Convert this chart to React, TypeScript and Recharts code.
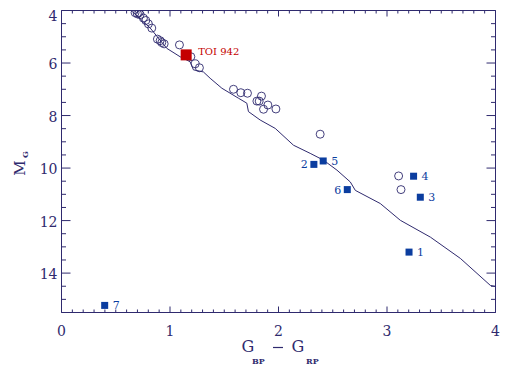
import React from 'react';
import { ScatterChart, Scatter, XAxis, YAxis, Customized } from 'recharts';

const W = 510;
const H = 368;
const INK = '#2f2a6e';
const BLUE = '#0b3d9f';
const RED = '#c40000';
const SERIF = '"DejaVu Serif", "Liberation Serif", serif';

// field stars (open circles)
const fieldX = [0.678, 0.699, 0.724, 0.715, 0.755, 0.777, 0.801, 0.832, 0.884, 0.909, 0.924, 0.946, 1.087, 1.192, 1.232, 1.271, 1.585, 1.653, 1.714, 1.843, 1.801, 1.822, 1.902, 1.862, 1.976, 2.384, 3.107, 3.129];
const fieldY = [4.08, 4.13, 4.16, 4.08, 4.29, 4.38, 4.51, 4.67, 5.09, 5.15, 5.22, 5.27, 5.31, 5.76, 6.03, 6.18, 7.0, 7.13, 7.15, 7.26, 7.45, 7.45, 7.6, 7.76, 7.75, 8.71, 10.3, 10.82];

// numbered candidates (filled squares)
const memberLabels = ['1', '2', '3', '4', '5', '6', '7'];
const memberX = [3.203, 2.326, 3.307, 3.245, 2.412, 2.634, 0.398];
const memberY = [13.2, 9.86, 11.11, 10.31, 9.73, 10.82, 15.23];

// TOI 942
const toiX = [1.149];
const toiY = [5.69];

// isochrone
const isoX = [0.641, 0.816, 0.97, 1.093, 1.185, 1.216, 1.308, 1.37, 1.478, 1.631, 1.708, 1.723, 1.831, 1.97, 2.138, 2.292, 2.415, 2.539, 2.662, 2.708, 2.938, 3.123, 3.4, 3.676, 3.953, 4.0];
const isoY = [4.0, 4.66, 5.44, 5.76, 5.95, 6.26, 6.34, 6.58, 6.96, 7.34, 7.53, 7.85, 8.17, 8.49, 9.13, 9.44, 9.7, 10.08, 10.53, 10.85, 11.35, 11.99, 12.63, 13.44, 14.47, 14.51];

const xMajor = [0, 1, 2, 3, 4];
const yMajor = [4, 6, 8, 10, 12, 14];
const xTicks = Array.from({ length: 41 }, (_, i) => +(i * 0.1).toFixed(1));
const yTicks = Array.from({ length: 24 }, (_, i) => 4 + i * 0.5);

const leftLabels = new Set(['2', '6']);

const field = fieldX.map((x, i) => ({ x, y: fieldY[i] }));
const members = memberX.map((x, i) => ({ x, y: memberY[i], label: memberLabels[i] }));
const toi = toiX.map((x, i) => ({ x, y: toiY[i] }));
const iso = isoX.map((x, i) => ({ x, y: isoY[i] }));

const isMajor = (majors: number[], v: number) => majors.some((m) => Math.abs(m - v) < 1e-6);

// ticks point into the plot, labels only on bottom/left
function makeTick(orient: 'bottom' | 'top' | 'left' | 'right', majors: number[], showLabel: boolean) {
  return (props: any) => {
    const x = Number(props.x);
    const y = Number(props.y);
    const v = props.payload.value;
    const major = isMajor(majors, v);
    const horiz = orient === 'bottom' || orient === 'top';
    const len = horiz ? (major ? 6 : 3) : major ? 9 : 4.5;
    let d = '';
    let label = null;
    if (orient === 'bottom') {
      d = `M${x},${y}V${y - len}`;
      if (showLabel && major)
        label = (
          <text x={x} y={y + 23} textAnchor="middle" fontSize={14} fill={INK} stroke="none" fontFamily={SERIF}>
            {v}
          </text>
        );
    } else if (orient === 'top') {
      d = `M${x},${y}V${y + len}`;
    } else if (orient === 'left') {
      d = `M${x},${y}H${x + len}`;
      if (showLabel && major)
        label = (
          <text x={x - 4} y={Math.max(y + 6, 21)} textAnchor="end" fontSize={14} fill={INK} stroke="none" fontFamily={SERIF}>
            {v}
          </text>
        );
    } else {
      d = `M${x},${y}H${x - len}`;
    }
    return (
      <g>
        <path d={d} stroke={INK} strokeWidth={1} fill="none" />
        {label}
      </g>
    );
  };
}

const OpenCircle = (p: any) => (
  <circle cx={p.cx} cy={p.cy} r={4} fill="none" stroke={INK} strokeWidth={0.9} />
);

const MemberSquare = (p: any) => {
  const lbl = p.payload.label;
  const left = leftLabels.has(lbl);
  return (
    <g>
      <rect x={p.cx - 3.5} y={p.cy - 3.5} width={7} height={7} fill={BLUE} />
      <text
        x={left ? p.cx - 6 : p.cx + 8}
        y={p.cy + 4}
        textAnchor={left ? 'end' : 'start'}
        fontSize={11}
        fill={BLUE}
        fontFamily={SERIF}
      >
        {lbl}
      </text>
    </g>
  );
};

const ToiSquare = (p: any) => (
  <g>
    <rect x={p.cx - 5.5} y={p.cy - 5.5} width={11} height={11} fill={RED} />
    <text x={p.cx + 12} y={p.cy} fontSize={10} fill={RED} fontFamily={SERIF}>
      TOI 942
    </text>
  </g>
);

const Titles = () => (
  <g fill={INK} fontFamily={SERIF}>
    <text x={241.5} y={352} fontSize={16}>G</text>
    <text x={252} y={364} fontSize={8} fontWeight="bold">BP</text>
    <line x1={273} x2={283} y1={347.5} y2={347.5} stroke={INK} strokeWidth={1.2} />
    <text x={291.5} y={352} fontSize={16}>G</text>
    <text x={306} y={364} fontSize={8} fontWeight="bold">RP</text>
    <text transform="translate(25,168) rotate(-90)" fontSize={15} textAnchor="middle">M</text>
    <text transform="translate(28,158) rotate(-90)" fontSize={8} fontWeight="bold">G</text>
  </g>
);

export default function App() {
  return (
    <div style={{ position: 'fixed', left: 0, top: 0, width: W, height: H, background: '#fff' }}>
      <ScatterChart width={W} height={H} margin={{ top: 9.5, right: 13.5, bottom: 0, left: 0 }}>
        <XAxis
          type="number"
          dataKey="x"
          domain={[0, 4]}
          allowDataOverflow
          ticks={xTicks}
          interval={0}
          height={55.5}
          tickSize={0}
          tickMargin={0}
          tickLine={false}
          axisLine={{ stroke: INK }}
          tick={makeTick('bottom', xMajor, true)}
        />
        <XAxis
          xAxisId="top"
          orientation="top"
          type="number"
          dataKey="x"
          domain={[0, 4]}
          allowDataOverflow
          ticks={xTicks}
          interval={0}
          height={1}
          tickSize={0}
          tickMargin={0}
          tickLine={false}
          axisLine={{ stroke: INK }}
          tick={makeTick('top', xMajor, false)}
        />
        <YAxis
          type="number"
          dataKey="y"
          domain={[4, 15.5]}
          reversed
          allowDataOverflow
          ticks={yTicks}
          interval={0}
          width={61.5}
          tickSize={0}
          tickMargin={0}
          tickLine={false}
          axisLine={{ stroke: INK }}
          tick={makeTick('left', yMajor, true)}
        />
        <YAxis
          yAxisId="right"
          orientation="right"
          type="number"
          dataKey="y"
          domain={[4, 15.5]}
          reversed
          allowDataOverflow
          ticks={yTicks}
          interval={0}
          width={1}
          tickSize={0}
          tickMargin={0}
          tickLine={false}
          axisLine={{ stroke: INK }}
          tick={makeTick('right', yMajor, false)}
        />
        <Scatter
          data={iso}
          line={{ stroke: INK, strokeWidth: 1 }}
          shape={() => <g />}
          isAnimationActive={false}
        />
        <Scatter data={field} shape={OpenCircle} isAnimationActive={false} />
        <Scatter data={members} shape={MemberSquare} isAnimationActive={false} />
        <Scatter data={toi} shape={ToiSquare} isAnimationActive={false} />
        <Customized component={Titles} />
      </ScatterChart>
    </div>
  );
}
